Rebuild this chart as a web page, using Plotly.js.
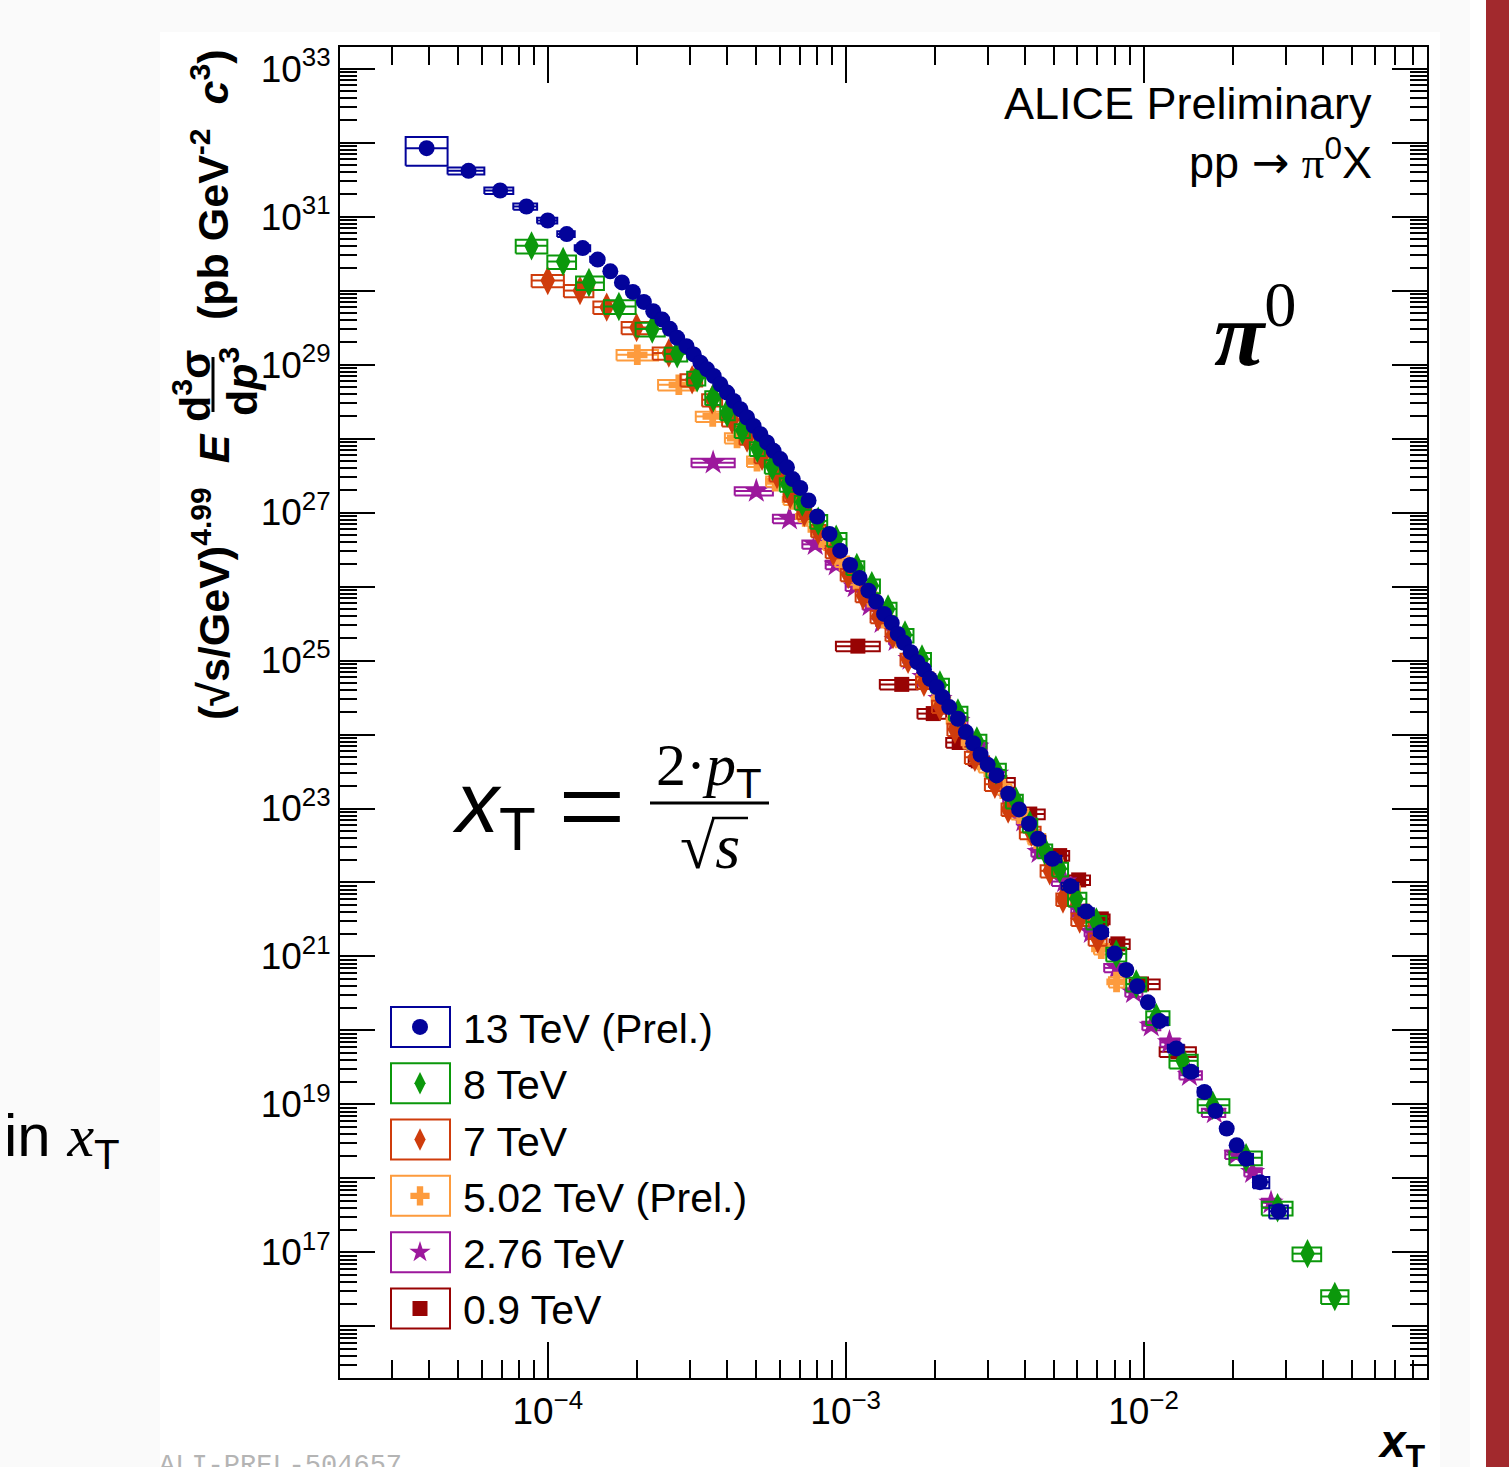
<!DOCTYPE html>
<html><head><meta charset="utf-8">
<script src="https://cdn.plot.ly/plotly-3.0.1.min.js"></script>
<style>html,body{margin:0;padding:0;background:#fafafa}</style>
</head><body><div id="chart" style="width:1509px;height:1467px"></div>
<script>
// ---------------- data (x_T, scaled invariant cross section) ----------------
const xt13 = [3.92e-5,5.42e-5,6.92e-5,8.48e-5,1.00e-4,1.158e-4,1.310e-4,1.471e-4,1.622e-4,1.774e-4,
1.931e-4,2.102e-4,2.260e-4,2.423e-4,2.569e-4,2.720e-4,2.922e-4,3.091e-4,3.255e-4,3.428e-4,
3.607e-4,3.798e-4,4.000e-4,4.209e-4,4.433e-4,4.667e-4,4.911e-4,5.172e-4,5.445e-4,5.730e-4,
6.034e-4,6.353e-4,6.644e-4,7.040e-4,7.507e-4,8.028e-4,8.825e-4,9.585e-4,1.035e-3,1.113e-3,
1.192e-3,1.265e-3,1.346e-3,1.428e-3,1.496e-3,1.570e-3,1.654e-3,1.740e-3,1.832e-3,1.919e-3,
2.021e-3,2.117e-3,2.227e-3,2.382e-3,2.533e-3,2.680e-3,2.837e-3,2.997e-3,3.211e-3,3.512e-3,
3.822e-3,4.128e-3,4.425e-3,4.944e-3,5.681e-3,6.427e-3,7.216e-3,7.994e-3,8.750e-3,9.532e-3,
1.034e-2,1.131e-2,1.287e-2,1.445e-2,1.601e-2,1.743e-2,1.902e-2,2.054e-2,2.209e-2,2.460e-2,2.840e-2];
const y13 = [8.40e31,4.15e31,2.25e31,1.37e31,8.85e30,5.80e30,3.75e30,2.62e30,1.82e30,1.29e30,
9.60e29,7.03e29,5.25e29,4.06e29,3.04e29,2.30e29,1.775e29,1.372e29,1.060e29,8.62e28,
7.00e28,5.41e28,4.18e28,3.22e28,2.49e28,1.925e28,1.483e28,1.146e28,8.86e27,6.82e27,
5.28e27,4.08e27,2.83e27,2.15e27,1.455e27,8.84e26,5.13e26,3.05e26,1.953e26,1.306e26,
8.80e25,6.25e25,4.27e25,3.22e25,2.29e25,1.732e25,1.298e25,9.51e24,7.56e24,5.66e24,
4.38e24,3.21e24,2.35e24,1.633e24,1.080e24,7.62e23,5.33e23,3.91e23,2.80e23,1.583e23,
9.71e22,6.22e22,3.90e22,2.09e22,8.94e21,4.05e21,2.132e21,1.101e21,6.58e20,3.96e20,
2.40e20,1.341e20,5.72e19,2.76e19,1.477e19,8.17e18,4.72e18,2.80e18,1.849e18,8.91e17,3.60e17];
const sys13 = [0.42,0.11,0.10,0.10,0.09,0.09,0.09,0.09,0.09,0.09,
0.09,0.09,0.09,0.09,0.09,0.09,0.09,0.09,0.09,0.09,
0.09,0.09,0.09,0.09,0.09,0.09,0.09,0.09,0.09,0.09,
0.09,0.09,0.09,0.09,0.09,0.09,0.09,0.09,0.09,0.09,
0.09,0.09,0.09,0.09,0.09,0.09,0.09,0.09,0.09,0.09,
0.09,0.09,0.09,0.09,0.09,0.09,0.10,0.10,0.10,0.10,
0.10,0.10,0.10,0.10,0.11,0.11,0.11,0.11,0.11,0.12,
0.12,0.12,0.12,0.13,0.13,0.14,0.14,0.15,0.16,0.17,0.20];

const xt8 = [8.82e-5,1.126e-4,1.375e-4,1.733e-4,2.243e-4,2.720e-4,3.173e-4,3.598e-4,4.000e-4,4.500e-4,
5.052e-4,5.673e-4,6.368e-4,7.151e-4,8.090e-4,9.294e-4,1.090e-3,1.224e-3,1.388e-3,1.582e-3,
1.804e-3,2.073e-3,2.382e-3,2.758e-3,3.194e-3,3.726e-3,4.151e-3,4.659e-3,5.230e-3,5.951e-3,
6.943e-3,8.100e-3,9.452e-3,1.103e-2,1.354e-2,1.707e-2,2.209e-2,2.818e-2,3.552e-2,4.387e-2];
const y8 = [4.02e30,2.47e30,1.285e30,6.10e29,3.03e29,1.395e29,6.62e28,3.59e28,2.23e28,1.29e28,
7.38e27,4.22e27,2.41e27,1.381e27,7.66e26,4.37e26,1.815e26,1.025e26,4.97e25,2.21e25,
1.048e25,4.67e24,1.955e24,8.19e23,3.32e23,1.266e23,6.00e22,2.70e22,1.530e22,6.01e21,
2.92e21,1.084e21,4.25e20,1.505e20,3.89e19,9.75e18,1.908e18,4.01e17,9.63e16,2.54e16];
const sys8 = 0.21;

const xt7 = [1.00e-4,1.283e-4,1.577e-4,1.987e-4,2.549e-4,3.053e-4,3.562e-4,4.157e-4,4.667e-4,5.240e-4,
5.883e-4,6.518e-4,7.261e-4,8.090e-4,9.082e-4,1.020e-3,1.144e-3,1.285e-3,1.442e-3,1.620e-3,
1.832e-3,2.073e-3,2.327e-3,2.715e-3,3.170e-3,3.512e-3,4.206e-3,4.842e-3,5.365e-3,6.105e-3,7.014e-3];
const y7 = [1.365e30,1.000e30,5.97e29,3.17e29,1.430e29,6.23e28,3.34e28,1.795e28,1.017e28,5.74e27,
3.25e27,1.747e27,0.999e27,5.71e26,2.97e26,1.455e26,7.58e25,3.94e25,2.25e25,1.035e25,
5.07e24,2.41e24,1.176e24,4.93e23,2.13e23,0.98e23,4.75e22,1.438e22,5.96e21,3.20e21,1.72e21];
const sys7 = 0.19;

const xt5 = [1.998e-4,2.754e-4,3.579e-4,4.320e-4,5.040e-4,5.804e-4,6.604e-4,7.317e-4,8.058e-4,8.758e-4,
9.734e-4,1.084e-3,1.208e-3,1.346e-3,1.500e-3,1.670e-3,1.861e-3,2.089e-3,2.345e-3,2.633e-3,
2.979e-3,3.371e-3,3.843e-3,4.381e-3,4.995e-3,5.694e-3,6.442e-3,7.216e-3,8.118e-3];
const y5 = [1.355e29,5.33e28,1.99e28,1.018e28,4.92e27,2.65e27,1.500e27,8.85e26,5.91e26,3.72e26,
2.19e26,1.254e26,7.17e25,3.73e25,2.01e25,1.111e25,5.98e24,3.01e24,1.522e24,7.69e23,
3.65e23,1.841e23,8.46e22,3.89e22,1.846e22,8.22e21,3.78e21,1.268e21,4.53e20];
const sys5 = 0.16;

const xt276 = [3.590e-4,5.013e-4,6.477e-4,7.904e-4,9.294e-4,1.076e-3,1.208e-3,1.325e-3,1.477e-3,1.645e-3,
1.832e-3,2.073e-3,2.382e-3,2.758e-3,3.211e-3,3.558e-3,3.963e-3,4.459e-3,5.436e-3,6.025e-3,
6.680e-3,8.150e-3,9.258e-3,1.061e-2,1.222e-2,1.426e-2,1.729e-2,2.045e-2,2.324e-2,2.679e-2];
const y276 = [4.71e27,1.95e27,8.25e26,3.72e26,1.97e26,0.998e26,5.59e25,3.30e25,1.885e25,1.045e25,
5.98e24,3.01e24,1.522e24,6.80e23,2.94e23,1.350e23,6.82e22,2.57e22,1.030e22,4.41e21,
2.132e21,7.01e20,3.28e20,1.158e20,6.90e19,2.49e19,7.77e18,2.11e18,1.217e18,4.69e17];
const sys276 = 0.13;

const xt09 = [1.099e-3,1.543e-3,1.968e-3,2.405e-3,2.786e-3,3.294e-3,4.151e-3,5.230e-3,6.057e-3,7.216e-3,8.201e-3,9.847e-3,1.303e-2];
const y09 = [1.565e25,4.76e24,1.918e24,7.80e23,4.40e23,2.25e23,8.42e22,2.31e22,1.084e22,3.22e21,1.480e21,4.25e20,5.14e19];
const sys09 = 0.15;

const seriesNames = ['13 TeV (Prel.)','8 TeV','7 TeV','5.02 TeV (Prel.)','2.76 TeV','0.9 TeV'];

// axis tick labels
const yTickExp = [16,17,18,19,20,21,22,23,24,25,26,27,28,29,30,31,32,33];
const yLabelExp = [17,19,21,23,25,27,29,31,33];
const xTickExp = [-4,-3,-2];
const xTickText = ['10<sup>\u22124</sup>','10<sup>\u22123</sup>','10<sup>\u22122</sup>'];

// ---------------- styling ----------------
const F = 'Liberation Sans, Arial, Helvetica, sans-serif';
const SERIF = 'Liberation Serif, Times New Roman, serif';
const L=340, R=1427, T=47, B=1378;
const px = v => (v-L)/(R-L);
const py = v => (B-v)/(B-T);

const COL = {c13:'#03039a', c8:'#0b980b', c7:'#cf3c0c', c5:'#fd9b3d', c276:'#9c189c', c09:'#980303'};

function boxTrace(xs, ys, sys, color){
  const bx=[], by=[];
  const n = xs.length;
  for(let i=0;i<n;i++){
    const lx = Math.log10(xs[i]);
    const lo = i>0 ? (lx+Math.log10(xs[i-1]))/2 : lx-(Math.log10(xs[i+1])-lx)/2;
    const hi = i<n-1 ? (lx+Math.log10(xs[i+1]))/2 : lx+(lx-Math.log10(xs[i-1]))/2;
    const x0=Math.pow(10,lo), x1=Math.pow(10,hi);
    const s = Array.isArray(sys)?sys[i]:sys;
    const y0=ys[i]*(1-s), y1=ys[i]*(1+s);
    bx.push(x0,x1,x1,x0,x0,null,x0,x1,null);
    by.push(y0,y0,y1,y1,y0,null,ys[i],ys[i],null);
  }
  return {type:'scatter', mode:'lines', x:bx, y:by, line:{color:color,width:2},
          showlegend:false, hoverinfo:'skip'};
}
function markTrace(xs, ys, name, color, symbol, size, rank){
  return {type:'scatter', mode:'markers', x:xs, y:ys, name:name, legendrank:rank,
          marker:{color:color, symbol:symbol, size:size, line:{width:0}}};
}

const traces = [
  boxTrace(xt09,y09,sys09,COL.c09), markTrace(xt09,y09,seriesNames[5],COL.c09,'square',15,6),
  boxTrace(xt276,y276,sys276,COL.c276), markTrace(xt276,y276,seriesNames[4],COL.c276,'star',19,5),
  boxTrace(xt5,y5,sys5,COL.c5), markTrace(xt5,y5,seriesNames[3],COL.c5,'cross',17,4),
  boxTrace(xt7,y7,sys7,COL.c7), markTrace(xt7,y7,seriesNames[2],COL.c7,'diamond-tall',21,3),
  boxTrace(xt8,y8,sys8,COL.c8), markTrace(xt8,y8,seriesNames[1],COL.c8,'diamond-tall',21,2),
  boxTrace(xt13,y13,sys13,COL.c13), markTrace(xt13,y13,seriesNames[0],COL.c13,'circle',16,1)
];

// ticks
const yMajor = yTickExp.map(e=>Math.pow(10,e));
const yText = yTickExp.map(e=> yLabelExp.includes(e) ? '10<sup>'+e+'</sup>' : '');
const yMinor = [];
for(let e=15;e<=33;e++) for(let k=2;k<=9;k++) yMinor.push(k*Math.pow(10,e));
const xMajor = xTickExp.map(e=>Math.pow(10,e));
const xMinor = [];
for(let e=-5;e<=-2;e++) for(let k=2;k<=9;k++) xMinor.push(k*Math.pow(10,e));

// legend geometry
const legFont = 41, legItemH = 1.3*legFont+3, legTop = 993.8;
const legColors = [COL.c13,COL.c8,COL.c7,COL.c5,COL.c276,COL.c09];
const shapes = [
  {type:'rect', xref:'paper', yref:'paper', x0:px(160), x1:px(1440), y0:py(1470), y1:py(32), fillcolor:'#ffffff', line:{width:0}, layer:'below'},
  {type:'rect', xref:'paper', yref:'paper', x0:px(1470), x1:px(1486), y0:py(1470), y1:py(-5), fillcolor:'#ffffff', line:{width:0}, layer:'below'},
  {type:'rect', xref:'paper', yref:'paper', x0:px(1486), x1:px(1512), y0:py(1470), y1:py(-5), fillcolor:'#a2292d', line:{width:0}, layer:'below'},
  // formula fraction bar and radical overline
  {type:'line', xref:'paper', yref:'paper', x0:px(650), x1:px(769), y0:py(803), y1:py(803), line:{color:'#000',width:3}},
  {type:'line', xref:'paper', yref:'paper', x0:px(712), x1:px(748), y0:py(818), y1:py(818), line:{color:'#000',width:2.5}},
  // y title fraction bar
  {type:'line', xref:'paper', yref:'paper', x0:px(213), x1:px(213), y0:py(412), y1:py(357), line:{color:'#000',width:3}}
];
legColors.forEach((c,i)=>{
  const cy = legTop + 5 + legItemH/2 + i*legItemH;
  shapes.push({type:'rect', xref:'paper', yref:'paper', x0:px(391), x1:px(450), y0:py(cy+20), y1:py(cy-20),
               line:{color:c,width:2}, fillcolor:'rgba(0,0,0,0)', layer:'above'});
});

function ann(text, x, y, size, opts){
  return Object.assign({xref:'paper', yref:'paper', x:px(x), y:py(y), text:text, showarrow:false,
    xanchor:'center', yanchor:'middle', font:{family:F, size:size, color:'#000'}}, opts||{});
}
const annotations = [
  ann('ALICE Preliminary', 1374, 103, 45, {xanchor:'right'}),
  ann('pp <span style="font-family:DejaVu Sans">\u2192</span> <span style="font-family:Liberation Serif">\u03c0</span><sup>0</sup>X', 1374, 160, 45, {xanchor:'right'}),
  ann('<b><i>\u03c0</i></b><sup>0</sup>', 1255, 327, 92, {font:{family:SERIF,size:92,color:'#000'}}),
  ann('<i>x</i><sub>T</sub>', 494, 808, 86),
  ann('=', 592, 806, 120, {font:{family:SERIF,size:120,color:'#000'}}),
  ann('<span style="font-family:Liberation Serif">2\u00b7<i>p</i></span><sub>T</sub>', 709, 770, 60),
  ann('<span style="font-family:Liberation Serif">\u221a<i>s</i></span>', 710, 846, 64),
  ann('<b>(\u221as/GeV)<sup>4.99</sup>  <i>E</i></b>', 211, 577, 43, {textangle:-90}),
  ann('<b>d<sup>3</sup>\u03c3</b>', 192, 386, 43, {textangle:-90}),
  ann('<b>d<i>p</i><sup>3</sup></b>', 239, 382, 43, {textangle:-90}),
  ann('<b>(pb GeV<sup>-2</sup>  <i>c</i><sup>3</sup>)</b>', 210, 185, 43, {textangle:-90}),
  ann('<b><i>x</i></b><sub><b>T</b></sub>', 1428, 1444, 46, {xanchor:'right'}),
  ann('in <span style="font-family:Liberation Serif"><i>x</i></span><sub>T</sub>', 2, 1140, 60, {xanchor:'left'}),
  ann('ALI-PREL-504657', 157, 1466, 27, {xanchor:'left', font:{family:'Liberation Mono, Courier New, monospace', size:27, color:'#b4b4b4'}})
];

const axBase = {type:'log', showline:true, linecolor:'#000', linewidth:2, mirror:'ticks',
  ticks:'inside', tickwidth:2, tickcolor:'#000', showgrid:false, zeroline:false,
  tickfont:{family:F, size:37, color:'#000'}};

const layout = {
  width:1509, height:1467,
  margin:{l:L, r:1509-R, t:T, b:1467-B, pad:0},
  paper_bgcolor:'#fafafa', plot_bgcolor:'#ffffff',
  font:{family:F, color:'#000'},
  showlegend:true, hovermode:false,
  xaxis:Object.assign({}, axBase, {range:[-4.6975,-1.0484], tickmode:'array', tickvals:xMajor, ticktext:xTickText, ticklen:36,
    minor:{tickmode:'array', tickvals:xMinor, ticks:'inside', ticklen:18, tickwidth:2, tickcolor:'#000', showgrid:false}}),
  yaxis:Object.assign({}, axBase, {range:[15.303,33.292], tickmode:'array', tickvals:yMajor, ticktext:yText, ticklen:35,
    minor:{tickmode:'array', tickvals:yMinor, ticks:'inside', ticklen:17, tickwidth:2, tickcolor:'#000', showgrid:false}}),
  legend:{x:px(377), xanchor:'left', y:py(legTop), yanchor:'top', bgcolor:'rgba(0,0,0,0)', borderwidth:0,
    font:{family:F, size:legFont, color:'#000'}, itemwidth:76, traceorder:'normal'},
  shapes:shapes, annotations:annotations
};

Plotly.newPlot('chart', traces, layout, {displayModeBar:false, staticPlot:true});
</script></body></html>
